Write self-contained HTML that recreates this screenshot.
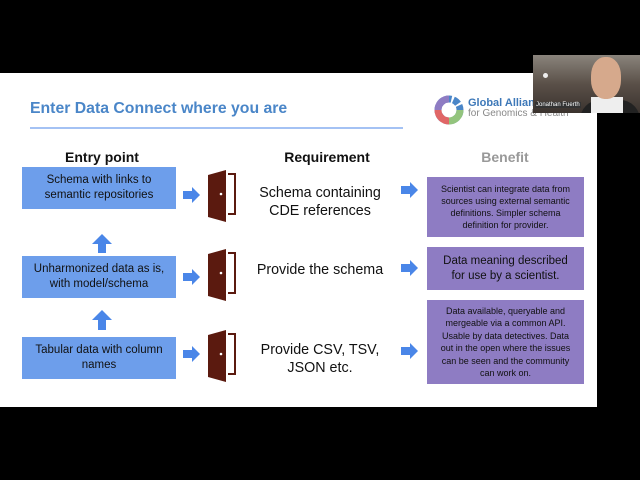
<!DOCTYPE html>
<html><head><style>
body{margin:0;width:640px;height:480px;background:#000;position:relative;overflow:hidden;font-family:"Liberation Sans",sans-serif}
.a{position:absolute}
.slide{left:0;top:73px;width:597px;height:334px;background:#fff}
.blue{background:#6d9eeb;color:#111;font-size:11.5px;text-align:center;display:flex;align-items:center;justify-content:center;line-height:15px;left:22px;width:154px;height:42px}
.purp{background:#8e7cc3;color:#111;text-align:center;display:flex;align-items:center;justify-content:center;left:427px;width:157px}
.req{font-size:14.3px;color:#111;text-align:center;width:150px;left:245px;line-height:18px}
.h{font-weight:bold;font-size:14px;text-align:center}
</style></head><body>
<div class="a slide"></div>
<div class="a" style="left:30px;top:100px;font-size:15.8px;font-weight:bold;color:#4a86c8">Enter Data Connect where you are</div>
<div class="a" style="left:30px;top:127px;width:373px;height:2px;background:#a4c2f4"></div>
<svg class="a" style="left:433px;top:94px" width="32" height="32" viewBox="0 0 32 32">
<circle cx="16" cy="16" r="11" fill="none" stroke="#4a86c8" stroke-width="7" stroke-dasharray="6 2"/>
<path d="M5 16 A11 11 0 0 0 16 27" fill="none" stroke="#e06666" stroke-width="7"/>
<path d="M16 27 A11 11 0 0 0 27 16" fill="none" stroke="#93c47d" stroke-width="7"/>
<path d="M16 5 A11 11 0 0 0 5 16" fill="none" stroke="#8e7cc3" stroke-width="7"/>
</svg>
<div class="a" style="left:468px;top:97px;font-size:11px;font-weight:bold;color:#3d78b8">Global Alliance</div>
<div class="a" style="left:468px;top:108px;font-size:10px;color:#888">for Genomics &amp; Health</div>
<div class="a" style="left:533px;top:55px;width:107px;height:58px;background:linear-gradient(180deg,#8a847c,#5a5048 50%,#3a332e);overflow:hidden">
 <div class="a" style="left:10px;top:18px;width:5px;height:5px;border-radius:50%;background:#eee"></div>
 <div class="a" style="left:47px;top:45px;width:60px;height:20px;border-radius:20px 20px 0 0;background:#222"></div>
 <div class="a" style="left:58px;top:42px;width:32px;height:20px;background:#eee"></div>
 <div class="a" style="left:58px;top:2px;width:30px;height:42px;border-radius:45%;background:#d6a98c"></div>
</div>
<div class="a" style="left:535px;top:102px;font-size:6px;color:#fff;background:#333;padding:0 1px">Jonathan Fuerth</div>
<div class="a" style="left:597px;top:113px;width:43px;height:295px;background:#000"></div>

<div class="a h" style="left:42px;top:149px;width:120px;color:#111">Entry point</div>
<div class="a h" style="left:262px;top:149px;width:130px;color:#111">Requirement</div>
<div class="a h" style="left:455px;top:149px;width:100px;color:#999">Benefit</div>

<div class="a blue" style="top:167px">Schema with links to<br>semantic repositories</div>
<div class="a blue" style="top:256px">Unharmonized data as is,<br>with model/schema</div>
<div class="a blue" style="top:337px">Tabular data with column<br>names</div>

<svg class="a" style="left:0;top:0" width="640" height="480">
<g fill="#4a86e8">
<path d="M92 244 L102 234 L112 244 L106 244 L106 253 L98 253 L98 244Z"/>
<path d="M92 320 L102 310 L112 320 L106 320 L106 330 L98 330 L98 320Z"/>
<path d="M183 191 L192 191 L192 187 L200 195 L192 203 L192 199 L183 199Z"/>
<path d="M183 273 L192 273 L192 269 L200 277 L192 285 L192 281 L183 281Z"/>
<path d="M183 350 L192 350 L192 346 L200 354 L192 362 L192 358 L183 358Z"/>
<path d="M401 186 L410 186 L410 182 L418 190 L410 198 L410 194 L401 194Z"/>
<path d="M401 264 L410 264 L410 260 L418 268 L410 276 L410 272 L401 272Z"/>
<path d="M401 347 L410 347 L410 343 L418 351 L410 359 L410 355 L401 355Z"/>
</g>
<g>
<path d="M208 175 L226 170 L226 222 L208 217Z" fill="#5b1a0f"/><circle cx="221" cy="194" r="1.3" fill="#fff"/>
<path d="M228 174 H235 V214 H228" fill="none" stroke="#5b1a0f" stroke-width="2"/>
<path d="M208 254 L226 249 L226 301 L208 296Z" fill="#5b1a0f"/><circle cx="221" cy="273" r="1.3" fill="#fff"/>
<path d="M228 253 H235 V293 H228" fill="none" stroke="#5b1a0f" stroke-width="2"/>
<path d="M208 335 L226 330 L226 382 L208 377Z" fill="#5b1a0f"/><circle cx="221" cy="354" r="1.3" fill="#fff"/>
<path d="M228 334 H235 V374 H228" fill="none" stroke="#5b1a0f" stroke-width="2"/>
</g>
</svg>

<div class="a req" style="top:184px">Schema containing<br>CDE references</div>
<div class="a req" style="top:261px">Provide the schema</div>
<div class="a req" style="top:341px">Provide CSV, TSV,<br>JSON etc.</div>

<div class="a purp" style="top:177px;height:60px;font-size:9px;line-height:12px">Scientist can integrate data from<br>sources using external semantic<br>definitions. Simpler schema<br>definition for provider.</div>
<div class="a purp" style="top:247px;height:43px;font-size:11.5px;line-height:15px">Data meaning described<br>for use by a scientist.</div>
<div class="a purp" style="top:300px;height:84px;font-size:9px;line-height:12.5px">Data available, queryable and<br>mergeable via a common API.<br>Usable by data detectives. Data<br>out in the open where the issues<br>can be seen and the community<br>can work on.</div>
</body></html>
